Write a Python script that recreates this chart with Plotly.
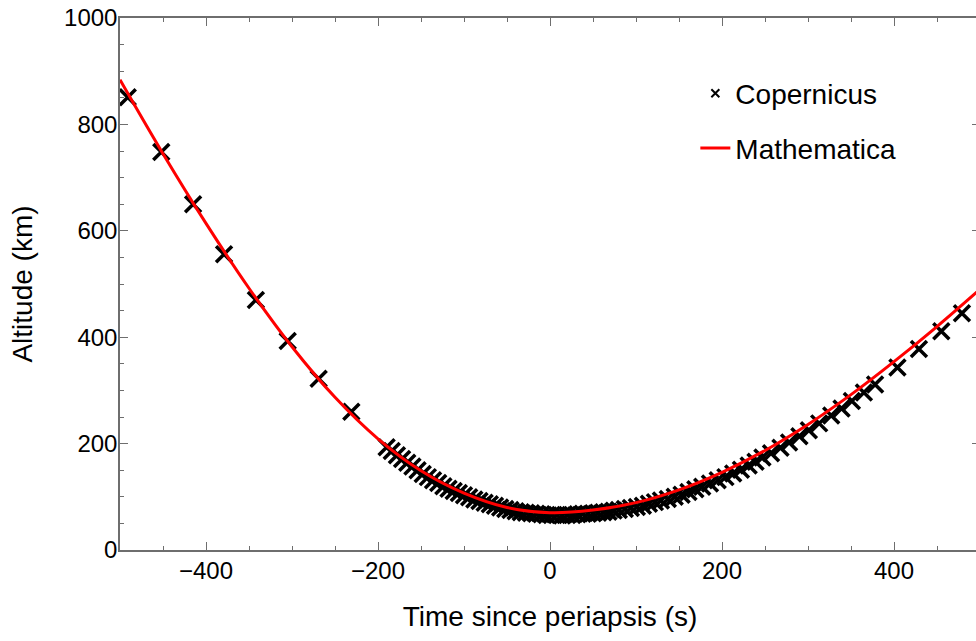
import plotly.graph_objects as go

# Copernicus samples: time since periapsis (s) and altitude (km)
cop_t = [-491, -452, -415, -379, -342, -305, -269, -231,
         -190, -184, -178, -172, -166, -160, -154, -148, -142, -136,
         -130, -124, -118, -112, -106, -100, -94, -88, -82, -76,
         -70, -64, -58, -52, -46, -40, -34, -28, -22, -16,
         -10, -4, 2, 8,
         14, 20, 26, 32, 38, 44, 50, 56, 62, 68,
         74, 80, 87, 94, 101, 108, 115, 122, 129, 137,
         145, 153, 161, 169, 177, 186, 195, 204, 213, 222,
         231, 239, 247, 257, 268, 278, 290, 301, 313, 327,
         339, 351, 365, 378, 404, 429, 455, 479]
cop_alt = [851, 748, 650, 556, 470, 393, 322, 260,
           193, 186, 178, 171, 164, 157, 150, 143, 137, 131,
           126, 120, 115, 111, 107, 103, 99, 95, 92, 89,
           86, 83, 80, 77, 75, 73, 71, 70, 69, 68,
           67, 66, 66, 66,
           65, 66, 66, 67, 68, 68, 69, 70, 71, 72,
           74, 75, 77, 79, 81, 83, 87, 90, 93, 96,
           100, 104, 109, 114, 119, 125, 131, 137, 144, 151,
           159, 166, 174, 182, 192, 202, 214, 225, 238, 253,
           266, 280, 296, 311, 343, 378, 411, 445]

# Mathematica solution curve
mma_t = [-500, -450, -400, -350, -300, -250, -200, -150, -100, -50, 0,
         50, 100, 150, 200, 250, 300, 350, 400, 450, 500]
mma_alt = [884, 745, 614, 492, 382, 287, 209, 149, 107, 80, 70,
           75, 89, 113, 146, 187, 236, 292, 354, 420, 490]

x_ticks = [-400, -200, 0, 200, 400]
y_ticks = [0, 200, 400, 600, 800, 1000]

FONT = "Liberation Sans, Arial, sans-serif"
AX = "#6e6e6e"

fig = go.Figure()

fig.add_trace(go.Scatter(
    x=cop_t, y=cop_alt, mode="markers", name="Copernicus", showlegend=False,
    marker=dict(symbol="x-thin", size=16, color="black",
                line=dict(color="black", width=3.5)),
))
fig.add_trace(go.Scatter(
    x=mma_t, y=mma_alt, mode="lines", name="Mathematica", showlegend=False,
    line=dict(color="#ff0000", width=3, shape="spline", smoothing=1.0),
))
# legend entries
fig.add_trace(go.Scatter(
    x=[None], y=[None], mode="markers", name="Copernicus", legend="legend",
    marker=dict(symbol="x-thin", size=8, color="black",
                line=dict(color="black", width=2)),
))
fig.add_trace(go.Scatter(
    x=[None], y=[None], mode="lines", name="Mathematica", legend="legend2",
    line=dict(color="#ff0000", width=3),
))

axis_common = dict(
    showline=True, linecolor=AX, linewidth=1.5, mirror="ticks",
    ticks="inside", ticklen=8, tickwidth=1.2, tickcolor=AX,
    showgrid=False, zeroline=False, automargin=False,
    ticklabeloverflow="allow",
    tickfont=dict(family=FONT, size=24, color="black"),
    minor=dict(ticks="inside", ticklen=4, tickwidth=1.2, tickcolor=AX, showgrid=False),
)

# figure is 4 px wider than the window: the right frame falls just outside view
fig.update_layout(
    width=980, height=641, autosize=False,
    margin=dict(l=120, r=0, t=18, b=91),
    paper_bgcolor="white", plot_bgcolor="white",
    font=dict(family=FONT, size=28, color="black"),
    xaxis=dict(range=[-500, 500], tickvals=x_ticks, minor_dtick=50,
               title=dict(text="Time since periapsis (s)", standoff=24,
                          font=dict(family=FONT, size=28)),
               ticklabelstandoff=-2, **axis_common),
    yaxis=dict(range=[0, 1000], tickvals=y_ticks, minor_dtick=50,
               title=dict(text="Altitude (km)", standoff=23,
                          font=dict(family=FONT, size=28)),
               ticklabelstandoff=-4, **axis_common),
    legend=dict(x=0.669, y=0.858, xanchor="left", yanchor="middle",
                bgcolor="rgba(0,0,0,0)", borderwidth=0,
                font=dict(family=FONT, size=28, color="black")),
    legend2=dict(x=0.669, y=0.755, xanchor="left", yanchor="middle",
                 bgcolor="rgba(0,0,0,0)", borderwidth=0,
                 font=dict(family=FONT, size=28, color="black")),
)

# remove the default page margin so the figure sits at the window's corner
fig.write_html("out.html",
               config={"displayModeBar": False},
               post_script="document.body.style.margin='0px';document.body.style.overflow='hidden';")
